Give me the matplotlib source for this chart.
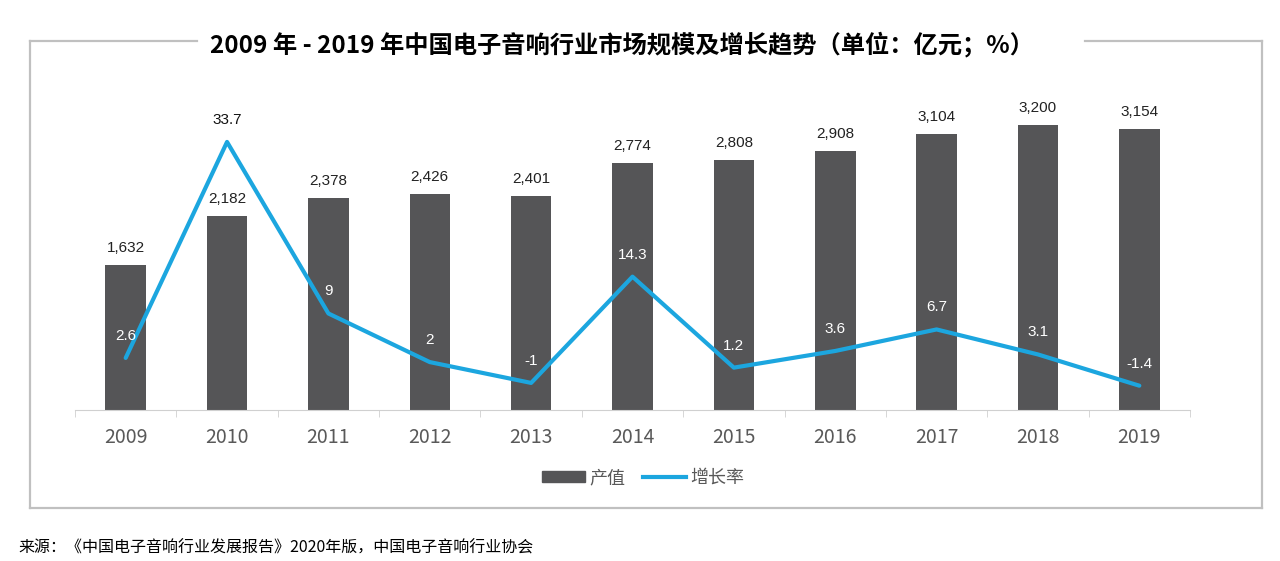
import matplotlib.pyplot as plt
from matplotlib.lines import Line2D
import numpy as np

plt.rcParams['font.family'] = ['Noto Sans CJK SC', 'DejaVu Sans']

years = ['2009', '2010', '2011', '2012', '2013', '2014', '2015', '2016', '2017', '2018', '2019']
output = [1632, 2182, 2378, 2426, 2401, 2774, 2808, 2908, 3104, 3200, 3154]
growth = [2.6, 33.7, 9, 2, -1, 14.3, 1.2, 3.6, 6.7, 3.1, -1.4]
growth_txt = ['2.6', '33.7', '9', '2', '-1', '14.3', '1.2', '3.6', '6.7', '3.1', '-1.4']

bar_col = '#555557'
line_col = '#1CA6DF'
grey = '#595959'
frame_col = '#C0C0C0'

W, H = 1280, 561
fig = plt.figure(figsize=(W / 100, H / 100), dpi=100)

def fx(px):
    return px / W

def fy(py):
    return 1 - py / H

# frame around the chart, top line broken by the title
for xs, ys in [([30, 30], [41, 508]), ([30, 1262], [508, 508]), ([1262, 1262], [41, 508]),
               ([30, 197], [41, 41]), ([1085, 1262], [41, 41])]:
    fig.add_artist(Line2D([fx(v) for v in xs], [fy(v) for v in ys], color=frame_col, lw=1.6))

ax = fig.add_axes([fx(75), fy(410), fx(1190) - fx(75), fy(100) - fy(410)])
x = np.arange(len(years))
ax.bar(x, output, width=0.4, color=bar_col, zorder=2)
ax.set_xlim(-0.5, len(years) - 0.5)
ax.set_ylim(0, 3483)
for s in ['top', 'right', 'left']:
    ax.spines[s].set_visible(False)
ax.spines['bottom'].set_color('#D0D0D0')
ax.set_yticks([])
ax.set_xticks(x)
ax.set_xticklabels(years, fontsize=14, color=grey)
ax.tick_params(axis='x', which='major', length=0, pad=12)
ax.set_xticks(np.arange(-0.5, len(years), 1), minor=True)
ax.tick_params(axis='x', which='minor', length=5, color='#D0D0D0')

for i, v in enumerate(output):
    ax.annotate(f'{v:,}', (i, v), xytext=(0, 17), textcoords='offset pixels',
                ha='center', va='center', fontsize=11, color='#222222',
                family=['Liberation Sans'])

ax2 = ax.twinx()
ax2.plot(x, growth, color=line_col, lw=3, solid_capstyle='round', zorder=3)
ax2.set_ylim(-4.9, 39.74)
ax2.axis('off')
for i, v in enumerate(growth):
    c = '#111111' if i == 1 else 'white'
    ax2.annotate(growth_txt[i], (i, v), xytext=(0, 22), textcoords='offset pixels',
                 ha='center', va='center', fontsize=11, color=c,
                 family=['Liberation Sans'])

fig.text(fx(622), fy(45), '2009 年 - 2019 年中国电子音响行业市场规模及增长趋势（单位：亿元；%）',
         ha='center', va='center', fontsize=17.5, fontweight='bold', color='black')

handles = [plt.Rectangle((0, 0), 1, 1, color=bar_col),
           Line2D([0], [0], color=line_col, lw=3)]
fig.legend(handles, ['产值', '增长率'], loc='center', bbox_to_anchor=(fx(643), fy(478)),
           ncol=2, frameon=False, fontsize=13, labelcolor=grey,
           handlelength=2.4, handleheight=0.6, columnspacing=1.0, handletextpad=0.2)

fig.text(fx(18), fy(548), '来源：《中国电子音响行业发展报告》2020年版，中国电子音响行业协会',
         ha='left', va='center', fontsize=11.5, color='black')

fig.savefig('out.png', dpi=100, facecolor='white')
